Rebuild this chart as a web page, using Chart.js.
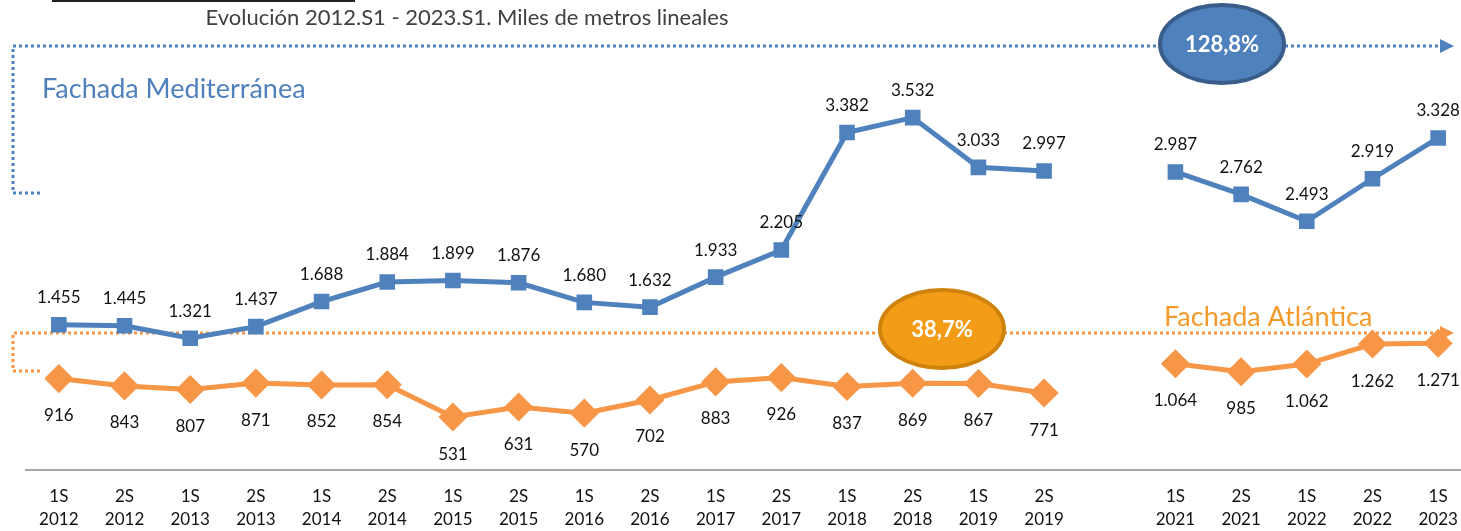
<!DOCTYPE html>
<html>
<head>
<meta charset="utf-8">
<script src="https://cdn.jsdelivr.net/npm/chart.js@4.4.0/dist/chart.umd.min.js"></script>
<style>
  body { margin: 0; background: #fff; overflow: hidden; }
  #wrap { width: 1487px; height: 531px; }
</style>
</head>
<body>
<div id="wrap"><canvas id="chart" width="1487" height="531"></canvas></div>
<script>
// half-years, 2020 left out (empty slot)
var semesters = ["1S","2S","1S","2S","1S","2S","1S","2S","1S","2S","1S","2S","1S","2S","1S","2S","","1S","2S","1S","2S","1S"];
var years = ["2012","2012","2013","2013","2014","2014","2015","2015","2016","2016","2017","2017","2018","2018","2019","2019","","2021","2021","2022","2022","2023"];

// miles de metros lineales
var mediterranea = [1455, 1445, 1321, 1437, 1688, 1884, 1899, 1876, 1680, 1632, 1933, 2205, 3382, 3532, 3033, 2997, null, 2987, 2762, 2493, 2919, 3328];
var atlantica = [916, 843, 807, 871, 852, 854, 531, 631, 570, 702, 883, 926, 837, 869, 867, 771, null, 1064, 985, 1062, 1262, 1271];

var labels = semesters.map(function (s, i) { return [s, years[i]]; });

var blue = "#4f81bd";
var orange = "#f79646";
var font = "Lato, 'Open Sans', sans-serif";

function fmt(v) {
  return v.toString().replace(/\B(?=(\d{3})+(?!\d))/g, ".");
}

// value labels: blue above, orange below
var valueLabels = {
  id: "valueLabels",
  afterDatasetsDraw: function (chart) {
    var ctx = chart.ctx;
    ctx.save();
    ctx.font = "17px " + font;
    ctx.fillStyle = "#111";
    ctx.textAlign = "center";
    ctx.textBaseline = "middle";
    chart.data.datasets.forEach(function (ds, di) {
      var meta = chart.getDatasetMeta(di);
      meta.data.forEach(function (pt, i) {
        var v = ds.data[i];
        if (v == null) return;
        var dy = di === 0 ? -27 : 37;
        ctx.fillText(fmt(v), pt.x, pt.y + dy);
      });
    });
    ctx.restore();
  }
};

function dotted(ctx, pts, color) {
  ctx.save();
  ctx.strokeStyle = color;
  ctx.lineWidth = 3;
  ctx.setLineDash([3, 3]);
  ctx.beginPath();
  ctx.moveTo(pts[0][0], pts[0][1]);
  for (var i = 1; i < pts.length; i++) ctx.lineTo(pts[i][0], pts[i][1]);
  ctx.stroke();
  ctx.restore();
}

function arrowHead(ctx, x, y, color) {
  ctx.save();
  ctx.fillStyle = color;
  ctx.beginPath();
  ctx.moveTo(x, y - 7);
  ctx.lineTo(x + 14, y);
  ctx.lineTo(x, y + 7);
  ctx.closePath();
  ctx.fill();
  ctx.restore();
}

function bubble(ctx, cx, cy, rx, ry, fill, stroke, text) {
  ctx.save();
  ctx.beginPath();
  ctx.ellipse(cx, cy, rx, ry, 0, 0, Math.PI * 2);
  ctx.fillStyle = fill;
  ctx.fill();
  ctx.lineWidth = 4;
  ctx.strokeStyle = stroke;
  ctx.stroke();
  ctx.fillStyle = "#fff";
  ctx.font = "bold 22px " + font;
  ctx.textAlign = "center";
  ctx.textBaseline = "middle";
  ctx.fillText(text, cx, cy + 1);
  ctx.restore();
}

// titles, brackets, growth bubbles
var decorations = {
  id: "decorations",
  beforeDatasetsDraw: function (chart) {
    var ctx = chart.ctx;
    ctx.save();
    ctx.fillStyle = "#222";
    ctx.fillRect(52, 0, 303, 2);
    ctx.font = "22px " + font;
    ctx.fillStyle = "#404040";
    ctx.textAlign = "center";
    ctx.textBaseline = "middle";
    ctx.fillText("Evolución 2012.S1 - 2023.S1. Miles de metros lineales", 467, 18);

    ctx.textAlign = "left";
    ctx.font = "27px " + font;
    ctx.fillStyle = blue;
    ctx.fillText("Fachada Mediterránea", 42, 89);
    ctx.fillStyle = "#f39a2b";
    ctx.fillText("Fachada Atlántica", 1164, 317);
    ctx.restore();

    dotted(ctx, [[40, 193], [13, 193], [13, 46], [1442, 46]], blue);
    arrowHead(ctx, 1440, 46, blue);
    dotted(ctx, [[40, 371], [13, 371], [13, 333], [1442, 333]], orange);
    arrowHead(ctx, 1440, 333, orange);

    bubble(ctx, 1222, 44, 62, 39, "#4f81bd", "#385d8a", "128,8%");
    bubble(ctx, 942, 329, 62, 39, "#f39c18", "#cf830c", "38,7%");
  }
};

new Chart(document.getElementById("chart"), {
  type: "line",
  data: {
    labels: labels,
    datasets: [
      {
        label: "Fachada Mediterránea",
        data: mediterranea,
        borderColor: blue,
        backgroundColor: blue,
        borderWidth: 5,
        pointStyle: "rect",
        pointRadius: 7.5,
        pointHoverRadius: 7.5,
        spanGaps: false,
        clip: false
      },
      {
        label: "Fachada Atlántica",
        data: atlantica,
        borderColor: orange,
        backgroundColor: orange,
        borderWidth: 5,
        pointStyle: "rectRot",
        pointRadius: 11,
        pointHoverRadius: 11,
        spanGaps: false,
        clip: false
      }
    ]
  },
  options: {
    responsive: false,
    animation: false,
    events: [],
    layout: { padding: { left: 26, right: 0, top: 0, bottom: 0 } },
    plugins: {
      legend: { display: false },
      title: { display: false },
      tooltip: { enabled: false }
    },
    scales: {
      y: { display: false, min: 0, max: 4550 },
      x: {
        offset: true,
        grid: { display: false, drawTicks: false },
        border: { display: true, color: "#a6a6a6", width: 2 },
        ticks: {
          color: "#111",
          font: { family: font, size: 17, lineHeight: 1.35 },
          padding: 15,
          maxRotation: 0,
          autoSkip: false
        },
        afterFit: function (scale) { scale.height = 61; }
      }
    }
  },
  plugins: [decorations, valueLabels]
});
</script>
</body>
</html>
